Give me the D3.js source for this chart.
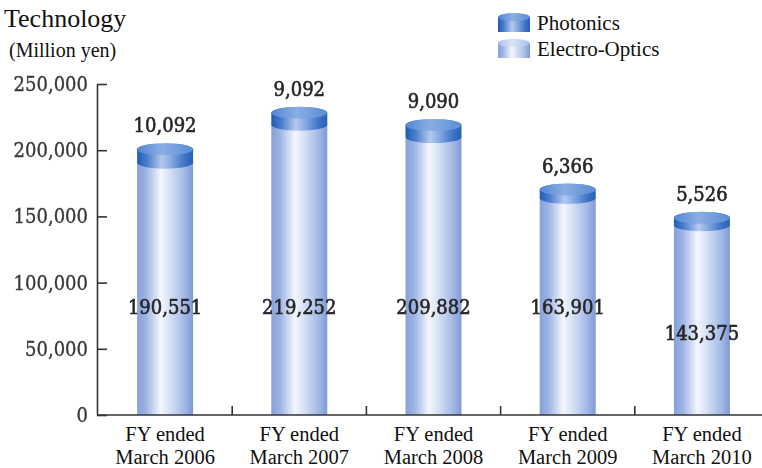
<!DOCTYPE html>
<html>
<head>
<meta charset="utf-8">
<script src="https://cdn.jsdelivr.net/npm/d3@7"></script>
<style>
  html, body { margin: 0; padding: 0; background: #fff; }
  svg { display: block; }
</style>
</head>
<body>
<svg id="chart" width="762" height="468"></svg>
<script>
// Net sales by segment, million yen
const categories = ["FY ended|March 2006", "FY ended|March 2007", "FY ended|March 2008", "FY ended|March 2009", "FY ended|March 2010"];
const electroOptics = [190551, 219252, 209882, 163901, 143375];
const photonics = [10092, 9092, 9090, 6366, 5526];
const yTicks = [0, 50000, 100000, 150000, 200000, 250000];
const seriesNames = ["Photonics", "Electro-Optics"];

const SERIF = "'Liberation Serif', 'Times New Roman', Times, serif";
const NUMF = "'DejaVu Serif', 'DejaVu Serif Condensed', serif";

const svg = d3.select("#chart");
const W = 762;
const left = 97, baseY = 415, topY = 84;

const y = d3.scaleLinear().domain([0, 250000]).range([baseY, topY]);
const x = d3.scaleBand().domain(categories).range([98, 769]).padding(0);
const barW = 56, rx = barW / 2, ry = 6;
const fmt = d3.format(",");

// gradients
const defs = svg.append("defs");
function hGrad(id, stops) {
  const g = defs.append("linearGradient").attr("id", id).attr("x1", "0").attr("x2", "1").attr("y1", "0").attr("y2", "0");
  stops.forEach(([o, c]) => g.append("stop").attr("offset", o).attr("stop-color", c));
}
hGrad("eoBody", [[0, "#86a1db"], [0.15, "#9bb2e3"], [0.42, "#f3f6fd"], [0.55, "#dde6f7"], [0.85, "#a2b8e5"], [1, "#7e9ad6"]]);
hGrad("phBody", [[0, "#1f5cb6"], [0.18, "#4a7ecb"], [0.44, "#b4c9ee"], [0.6, "#87aae2"], [0.85, "#3e73c5"], [1, "#2660b8"]]);
hGrad("phTop", [[0, "#5486d2"], [0.45, "#8aaee4"], [1, "#5a8bd4"]]);
hGrad("eoTop", [[0, "#a9bfe9"], [0.45, "#d8e3f7"], [1, "#a9bfe9"]]);

const blur = defs.append("filter").attr("id", "soft").attr("x", "-5%").attr("y", "-20%").attr("width", "110%").attr("height", "140%");
blur.append("feGaussianBlur").attr("stdDeviation", 0.45);

// cylinder segment path: flat or arced bottom, arced top
function segment(cx, yTop, yBot, arcBottom) {
  const l = cx - rx, r = cx + rx;
  let p = `M${l},${yTop} L${l},${yBot} `;
  if (arcBottom) p += `A${rx},${ry} 0 0 0 ${r},${yBot} `;
  else p += `L${r},${yBot} `;
  p += `L${r},${yTop} A${rx},${ry} 0 0 0 ${l},${yTop} Z`;
  return p;
}

const bars = svg.append("g");
categories.forEach((c, i) => {
  const cx = x(c) + x.bandwidth() / 2;
  const yEO = y(electroOptics[i]);
  const yTot = y(electroOptics[i] + photonics[i]);
  bars.append("path").attr("d", segment(cx, yEO, baseY, false)).attr("fill", "url(#eoBody)");
  bars.append("path").attr("d", segment(cx, yTot, yEO, true)).attr("fill", "url(#phBody)");
  bars.append("ellipse").attr("cx", cx).attr("cy", yTot).attr("rx", rx).attr("ry", ry).attr("fill", "url(#phTop)");
});

// axes
const yAxis = d3.axisLeft(y).tickValues(yTicks).tickSize(-10).tickSizeOuter(0).tickPadding(9).tickFormat(fmt);
const gy = svg.append("g").attr("transform", `translate(${left},0)`).call(yAxis);
gy.attr("font-family", NUMF).attr("font-size", 20);
gy.select(".domain").attr("stroke", "#333").attr("stroke-width", 1.6);
gy.selectAll(".tick line").attr("stroke", "#333").attr("stroke-width", 1.6);
gy.selectAll(".tick text").attr("font-family", NUMF).attr("font-stretch", "condensed")
  .attr("fill", "#3a3a3a").attr("stroke", "#3a3a3a").attr("stroke-width", 0.35)
  .attr("font-size", 20).attr("filter", "url(#soft)");

svg.append("line").attr("x1", left).attr("x2", W).attr("y1", baseY).attr("y2", baseY).attr("stroke", "#333").attr("stroke-width", 1.6);
categories.slice(0, -1).forEach(c => {
  const tx = x(c) + x.bandwidth();
  svg.append("line").attr("x1", tx).attr("x2", tx).attr("y1", baseY).attr("y2", baseY - 9).attr("stroke", "#333").attr("stroke-width", 1.6);
});

const xAxis = d3.axisBottom(x).tickSize(0).tickFormat("");
const gx = svg.append("g").attr("transform", `translate(0,${baseY})`).call(xAxis);
gx.select(".domain").remove();
gx.selectAll(".tick").each(function(d) {
  const parts = d.split("|");
  const t = d3.select(this).append("text").attr("font-family", SERIF).attr("fill", "#111").attr("font-size", 20.5).attr("text-anchor", "middle");
  t.append("tspan").attr("x", 0).attr("y", 26).text(parts[0]);
  t.append("tspan").attr("x", 0).attr("y", 49).text(parts[1]);
});

// value labels
const eoLabelValue = [76000, 76000, 76000, 76000, 56500];
const labels = svg.append("g").attr("font-family", NUMF).attr("font-stretch", "condensed").attr("font-size", 20)
  .attr("fill", "#262626").attr("stroke", "#262626").attr("stroke-width", 0.6)
  .attr("text-anchor", "middle").attr("filter", "url(#soft)");
categories.forEach((c, i) => {
  const cx = x(c) + x.bandwidth() / 2;
  const yTot = y(electroOptics[i] + photonics[i]);
  labels.append("text").attr("x", cx).attr("y", yTot - ry - 11).text(fmt(photonics[i]));
  labels.append("text").attr("x", cx).attr("y", y(eoLabelValue[i])).text(fmt(electroOptics[i]));
});

// titles
svg.append("text").attr("font-family", SERIF).attr("x", 4).attr("y", 27).attr("font-size", 26).attr("fill", "#111").text("Technology");
svg.append("text").attr("font-family", SERIF).attr("x", 9).attr("y", 57).attr("font-size", 20).attr("fill", "#111").text("(Million yen)");

// legend
const legend = svg.append("g");
seriesNames.forEach((name, i) => {
  const ly = 17 + i * 26;
  const cx = 514, lrx = 16, lry = 4;
  const body = i === 0 ? "url(#phBody)" : "url(#eoBody)";
  const top = i === 0 ? "url(#phTop)" : "url(#eoTop)";
  legend.append("path").attr("d", `M${cx - lrx},${ly} L${cx - lrx},${ly + 15} L${cx + lrx},${ly + 15} L${cx + lrx},${ly} Z`).attr("fill", body);
  legend.append("ellipse").attr("cx", cx).attr("cy", ly).attr("rx", lrx).attr("ry", lry).attr("fill", top);
  legend.append("text").attr("font-family", SERIF).attr("x", 537).attr("y", ly + 13).attr("font-size", 21).attr("fill", "#111").text(name);
});
</script>
</body>
</html>
